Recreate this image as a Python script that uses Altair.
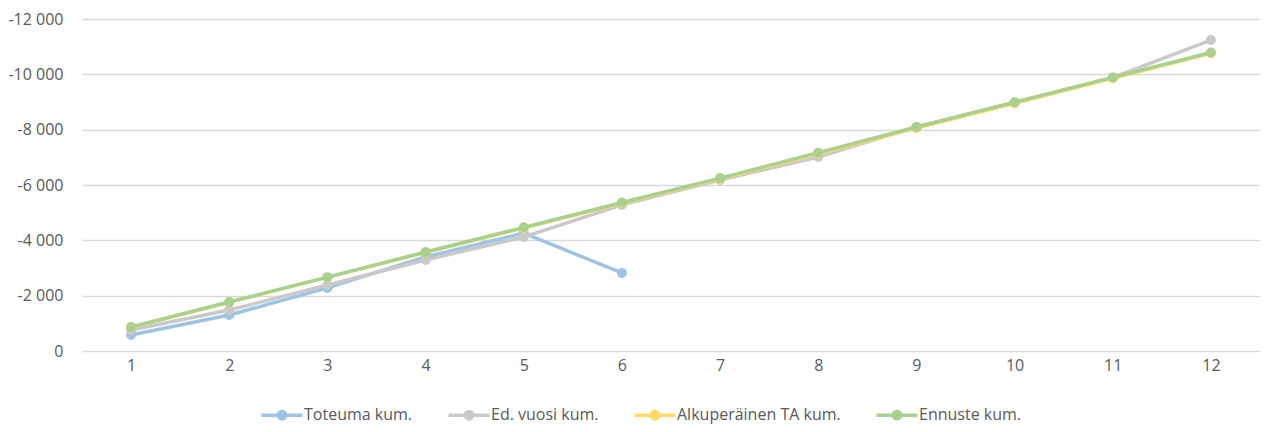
import altair as alt
import pandas as pd

months = [1, 2, 3, 4, 5, 6, 7, 8, 9, 10, 11, 12]
series_names = ["Toteuma kum.", "Ed. vuosi kum.", "Alkuperäinen TA kum.", "Ennuste kum."]
colors = ["#9dc3e6", "#c9c9c9", "#ffd966", "#a9d18e"]

toteuma = [-580, -1300, -2280, -3400, -4260, -2820]
ed_vuosi = [-760, -1480, -2385, -3290, -4120, -5280, -6180, -7010, -8100, -8980, -9880, -11240]
alkuperainen = [-860, -1760, -2660, -3560, -4440, -5340, -6220, -7130, -8060, -8950, -9860, -10760]
ennuste = [-870, -1770, -2670, -3580, -4470, -5370, -6250, -7170, -8095, -8990, -9890, -10790]

values = [toteuma, ed_vuosi, alkuperainen, ennuste]
rows = []
for name, vals in zip(series_names, values):
    for m, v in zip(months, vals):
        rows.append({"kk": m, "arvo": v, "sarja": name})
df = pd.DataFrame(rows)

FONT = "Open Sans"
LABEL = "#595959"
SW = 3.5

symbol_path = (
    "M-4.1,0 L4.1,0 "
    "M0.75,0 A0.75,0.75 0 1,1 -0.75,0 A0.75,0.75 0 1,1 0.75,0 "
    "M0.35,0 A0.35,0.35 0 1,1 -0.35,0 A0.35,0.35 0 1,1 0.35,0"
)

color = alt.Color(
    "sarja:N",
    scale=alt.Scale(domain=series_names, range=colors),
    legend=alt.Legend(
        title=None,
        orient="none",
        legendX=192,
        legendY=388,
        direction="horizontal",
        symbolType=symbol_path,
        symbolSize=100,
        symbolStrokeWidth=SW,
        labelOffset=14,
        columnPadding=28,
        labelLimit=400,
        labelFont=FONT,
        labelFontSize=16,
        labelColor=LABEL,
    ),
)

x = alt.X(
    "kk:O",
    title=None,
    scale=alt.Scale(type="point", padding=0.5),
    axis=alt.Axis(labelAngle=0, ticks=False, domain=False, labelPadding=6,
                  labelFont=FONT, labelFontSize=16, labelColor=LABEL),
)
y = alt.Y(
    "arvo:Q",
    title=None,
    scale=alt.Scale(domain=[-12000, 0], reverse=True, nice=False),
    axis=alt.Axis(
        values=[0, -2000, -4000, -6000, -8000, -10000, -12000],
        labelExpr="(datum.value < 0 ? '-' : '') + replace(format(abs(datum.value), ','), ',', ' ')",
        ticks=False, domain=False, labelPadding=19,
        gridColor="#d9d9d9", gridWidth=1.3,
        labelFont=FONT, labelFontSize=16, labelColor=LABEL,
    ),
)

layers = []
for name in series_names:
    base = alt.Chart(df).transform_filter(alt.datum.sarja == name)
    layers.append(base.mark_line(strokeWidth=SW).encode(x=x, y=y, color=color))
    layers.append(base.mark_circle(size=100, opacity=1).encode(x=x, y=y, color=color))

chart = alt.layer(*layers).properties(
    width=1178,
    height=332,
    autosize=alt.AutoSizeParams(type="none"),
    padding={"left": 74, "top": 11, "right": 0, "bottom": 73},
).configure_view(stroke=None)

chart.save("out.html", embed_options={"renderer": "svg", "actions": False})
